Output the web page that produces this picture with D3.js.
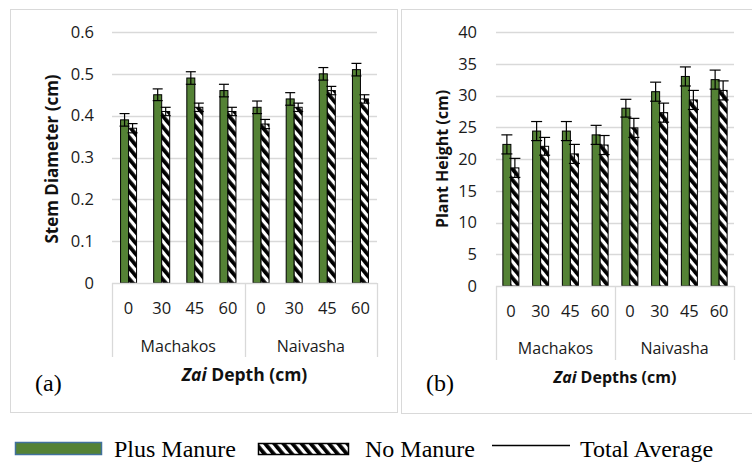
<!DOCTYPE html>
<html><head><meta charset="utf-8">
<script src="https://cdn.jsdelivr.net/npm/d3@7"></script>
<style>body{margin:0;background:#fff}svg{display:block}</style>
</head><body>
<svg id="c" width="752" height="462"></svg>
<script>
// ---- data ----
const sites = ["Machakos", "Naivasha"];
const depths = ["0", "30", "45", "60"];
const series = ["Plus Manure", "No Manure"];
// (a) stem diameter (cm)
const stemPlus = [0.39, 0.45, 0.49, 0.46, 0.42, 0.44, 0.50, 0.51];
const stemNo   = [0.37, 0.41, 0.42, 0.41, 0.38, 0.42, 0.46, 0.44];
const stemPlusErr = [0.015, 0.014, 0.015, 0.015, 0.015, 0.015, 0.015, 0.015];
const stemNoErr   = [0.011, 0.010, 0.010, 0.010, 0.011, 0.010, 0.010, 0.010];
const stemTicks = [0, 0.1, 0.2, 0.3, 0.4, 0.5, 0.6];
// (b) plant height (cm)
const heightPlus = [22.3, 24.4, 24.4, 23.8, 28.0, 30.6, 33.0, 32.5];
const heightNo   = [18.6, 22.0, 20.8, 22.2, 24.9, 27.3, 29.3, 30.8];
const heightPlusErr = [1.5, 1.5, 1.5, 1.5, 1.4, 1.5, 1.5, 1.5];
const heightNoErr   = [1.5, 1.4, 1.5, 1.5, 1.5, 1.5, 1.5, 1.5];
const heightTicks = [0, 5, 10, 15, 20, 25, 30, 35, 40];

const svg = d3.select("#c");
const GREEN = "#548235";
const axisFont = "'Open Sans', sans-serif";

const defs = svg.append("defs");
const pat = defs.append("pattern").attr("id", "hatch")
  .attr("patternUnits", "userSpaceOnUse").attr("width", 7).attr("height", 7)
  .attr("patternTransform", "rotate(-40)");
pat.append("rect").attr("width", 7).attr("height", 7).attr("fill", "#fff");
pat.append("rect").attr("width", 3.8).attr("height", 7).attr("fill", "#000");

// panel borders
svg.append("rect").attr("x", 10.5).attr("y", 9.5).attr("width", 387).attr("height", 403)
  .attr("fill", "none").attr("stroke", "#d9d9d9");
svg.append("rect").attr("x", 401.5).attr("y", 9.5).attr("width", 360).attr("height", 404)
  .attr("fill", "none").attr("stroke", "#d9d9d9");

function panel(o) {
  const g = svg.append("g");
  const y = d3.scaleLinear().domain([0, o.ymax]).range([o.y0, o.y1]);
  const cats = [];
  sites.forEach(s => depths.forEach(d => cats.push(s + "|" + d)));
  const x0 = d3.scaleBand().domain(cats).range([o.xl, o.xr]);
  const bw = x0.bandwidth();
  const p = (bw / o.barW - 2) / 2;
  const x1 = d3.scaleBand().domain(series).range([0, bw]).paddingInner(0).paddingOuter(p);

  // gridlines
  g.append("g").selectAll("line").data(o.ticks.slice(1)).join("line")
    .attr("x1", o.xl).attr("x2", o.xr)
    .attr("y1", d => Math.round(y(d)) + 0.5).attr("y2", d => Math.round(y(d)) + 0.5)
    .attr("stroke", "#d9d9d9").attr("stroke-width", 1.3);
  // y tick labels
  g.append("g").selectAll("text").data(o.ticks).join("text")
    .attr("x", o.labelX).attr("y", d => y(d)).attr("dy", "0.35em")
    .attr("text-anchor", "end").attr("font-family", axisFont).attr("font-size", 16.5)
    .attr("fill", "#1a1a1a").text(d => o.fmt(d));

  // bars
  const rows = cats.map((c, i) => ({ c, vals: [
    { s: series[0], v: o.plus[i], e: o.plusErr[i] },
    { s: series[1], v: o.no[i], e: o.noErr[i] }] }));
  const cg = g.append("g").selectAll("g").data(rows).join("g")
    .attr("transform", d => `translate(${x0(d.c)},0)`);
  cg.selectAll("rect").data(d => d.vals).join("rect")
    .attr("x", d => x1(d.s)).attr("width", x1.bandwidth())
    .attr("y", d => y(d.v)).attr("height", d => y(0) - y(d.v))
    .attr("fill", d => d.s === series[0] ? GREEN : "url(#hatch)")
    .attr("stroke", "#000").attr("stroke-width", 1);
  // error bars
  const eb = cg.selectAll("g.eb").data(d => d.vals).join("g").attr("class", "eb");
  const cw = o.capW / 2;
  eb.append("line")
    .attr("x1", d => x1(d.s) + x1.bandwidth() / 2).attr("x2", d => x1(d.s) + x1.bandwidth() / 2)
    .attr("y1", d => y(d.v + d.e)).attr("y2", d => y(d.v - d.e)).attr("stroke", "#000").attr("stroke-width", 1.2);
  [1, -1].forEach(sg => {
    eb.append("line")
      .attr("x1", d => x1(d.s) + x1.bandwidth() / 2 - cw).attr("x2", d => x1(d.s) + x1.bandwidth() / 2 + cw)
      .attr("y1", d => y(d.v + sg * d.e)).attr("y2", d => y(d.v + sg * d.e))
      .attr("stroke", "#000").attr("stroke-width", 1.2);
  });

  // category axis
  g.append("line").attr("x1", o.xl).attr("x2", o.xr).attr("y1", y(0) + 0.5).attr("y2", y(0) + 0.5)
    .attr("stroke", "#d9d9d9").attr("stroke-width", 1.3);
  const groupEdges = [o.xl, x0(sites[1] + "|" + depths[0]), o.xr];
  g.append("g").selectAll("line").data(groupEdges).join("line")
    .attr("x1", d => Math.round(d) + 0.5).attr("x2", d => Math.round(d) + 0.5)
    .attr("y1", y(0)).attr("y2", o.boxBottom).attr("stroke", "#d9d9d9").attr("stroke-width", 1.3);
  g.append("g").selectAll("text").data(cats).join("text")
    .attr("x", d => x0(d) + bw / 2).attr("y", o.tickY).attr("dy", "0.35em")
    .attr("text-anchor", "middle").attr("font-family", axisFont).attr("font-size", 16.5)
    .attr("fill", "#1a1a1a").text(d => d.split("|")[1]);
  g.append("g").selectAll("text").data(sites).join("text")
    .attr("x", (d, i) => (groupEdges[i] + groupEdges[i + 1]) / 2).attr("y", o.groupY).attr("dy", "0.35em")
    .attr("text-anchor", "middle").attr("font-family", axisFont).attr("font-size", 16)
    .attr("fill", "#1a1a1a").text(d => d);

  // x title
  const xt = g.append("text").attr("x", (o.xl + o.xr) / 2).attr("y", o.titleY).attr("dy", "0.35em")
    .attr("text-anchor", "middle").attr("font-family", axisFont).attr("font-size", o.xTitleSize)
    .attr("font-weight", "bold").attr("fill", "#111");
  xt.append("tspan").attr("font-style", "italic").text("Zai");
  xt.append("tspan").text(" " + o.xTitle);
  // y title
  g.append("text").attr("transform", `translate(${o.yTitleX},${o.yTitleY}) rotate(-90)`)
    .attr("dy", "0.35em").attr("text-anchor", "middle").attr("font-family", axisFont)
    .attr("font-size", o.yTitleSize).attr("font-weight", "bold").attr("fill", "#111").text(o.yTitle);
  // panel label
  g.append("text").attr("x", o.tagX).attr("y", 391).attr("font-family", "'Liberation Serif', serif")
    .attr("font-size", 24).attr("fill", "#000").text(o.tag);
}

panel({ ymax: 0.6, y0: 283, y1: 32, xl: 112, xr: 377, barW: 8, capW: 10,
  ticks: stemTicks, fmt: d => d === 0 ? "0" : d3.format(".1f")(d), labelX: 94,
  plus: stemPlus, no: stemNo, plusErr: stemPlusErr, noErr: stemNoErr,
  boxBottom: 357, tickY: 308, groupY: 346, titleY: 375, xTitle: "Depth (cm)", xTitleSize: 17.5,
  yTitle: "Stem Diameter (cm)", yTitleX: 52, yTitleY: 159, yTitleSize: 17, tag: "(a)", tagX: 35 });

panel({ ymax: 40, y0: 286, y1: 32, xl: 496, xr: 734, barW: 8, capW: 11,
  ticks: heightTicks, fmt: d => String(d), labelX: 477,
  plus: heightPlus, no: heightNo, plusErr: heightPlusErr, noErr: heightNoErr,
  boxBottom: 360, tickY: 311, groupY: 348, titleY: 377, xTitle: "Depths (cm)", xTitleSize: 16,
  yTitle: "Plant Height (cm)", yTitleX: 442, yTitleY: 159, yTitleSize: 16, tag: "(b)", tagX: 426 });

// legend
const lg = svg.append("g").attr("font-family", "'Liberation Serif', serif").attr("font-size", 24).attr("fill", "#000");
lg.append("rect").attr("x", 15.5).attr("y", 442.5).attr("width", 86).attr("height", 12)
  .attr("fill", GREEN).attr("stroke", "#41719c").attr("stroke-width", 1.5);
lg.append("text").attr("x", 114).attr("y", 457).text(series[0]);
lg.append("rect").attr("x", 258.5).attr("y", 443.5).attr("width", 90).attr("height", 11)
  .attr("fill", "url(#hatch)").attr("stroke", "#000").attr("stroke-width", 1.5);
lg.append("text").attr("x", 365).attr("y", 457).text(series[1]);
lg.append("line").attr("x1", 492).attr("x2", 570).attr("y1", 445.5).attr("y2", 445.5)
  .attr("stroke", "#000").attr("stroke-width", 1.3);
lg.append("text").attr("x", 580).attr("y", 457).text("Total Average");
</script>
</body></html>
